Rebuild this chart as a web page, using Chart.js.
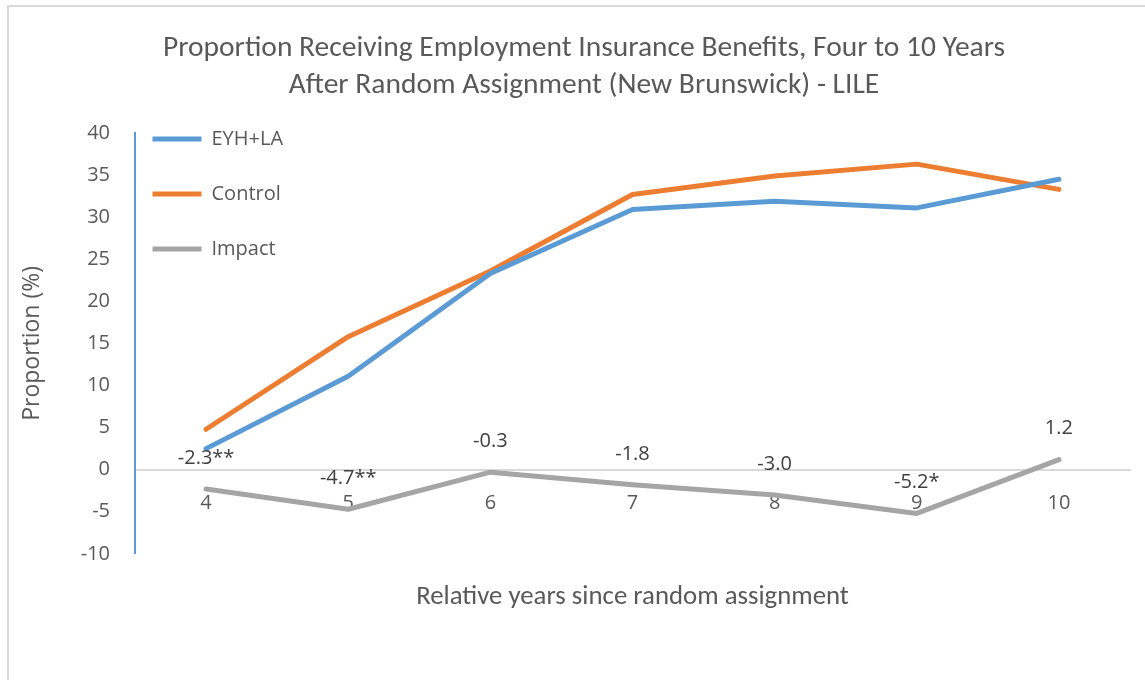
<!DOCTYPE html>
<html>
<head>
<meta charset="utf-8">
<script src="https://cdn.jsdelivr.net/npm/chart.js@4/dist/chart.umd.min.js"></script>
<style>
  html, body { margin: 0; padding: 0; background: #fff; overflow: hidden; }
  #frame { position: absolute; left: 7px; top: 5px; width: 2000px; height: 2000px; border: 2px solid #d9d9d9; }
  #wrap { position: absolute; left: 0; top: 0; width: 1145px; height: 680px; }
</style>
</head>
<body>
<div id="frame"></div>
<div id="wrap"><canvas id="chart" width="1145" height="680"></canvas></div>
<script>
// chart data
const years = ['4', '5', '6', '7', '8', '9', '10'];
const eyhValues = [2.5, 11.1, 23.3, 30.9, 31.9, 31.1, 34.5];
const controlValues = [4.8, 15.8, 23.6, 32.7, 34.9, 36.3, 33.3];
const impactValues = [-2.3, -4.7, -0.3, -1.8, -3.0, -5.2, 1.2];
const impactLabels = ['-2.3**', '-4.7**', '-0.3', '-1.8', '-3.0', '-5.2*', '1.2'];
const yTicks = [-10, -5, 0, 5, 10, 15, 20, 25, 30, 35, 40];

const titleLines = ['Proportion Receiving Employment Insurance Benefits, Four to 10 Years',
                    'After Random Assignment (New Brunswick) - LILE'];
const xTitle = 'Relative years since random assignment';

const titleFont = "Carlito, 'Liberation Sans Narrow', 'Open Sans', sans-serif";
const tickFont = "'Open Sans', 'Noto Sans', sans-serif";
const textColor = '#595959';

// labels above the impact line
const impactLabelPlugin = {
  id: 'impactLabels',
  afterDatasetsDraw(chart) {
    const meta = chart.getDatasetMeta(2);
    const ctx = chart.ctx;
    ctx.save();
    ctx.font = "20px " + tickFont;
    ctx.fillStyle = '#404040';
    ctx.textAlign = 'center';
    ctx.textBaseline = 'middle';
    meta.data.forEach((pt, i) => {
      ctx.fillText(impactLabels[i], pt.x, pt.y - 31);
    });
    ctx.restore();
  }
};

// legend into the plot's top-left corner (a vertical legend resets top to 0),
// main title centred on the framed chart, x title centred on the plot
const layoutTweaks = {
  id: 'layoutTweaks',
  afterLayout(chart) {
    const area = chart.chartArea;
    const lg = chart.legend;
    if (lg) {
      const w = lg.width, h = lg.height;
      lg.left = area.left - 17.5;
      lg.right = lg.left + w;
      lg.top = area.top - 39;
      lg.bottom = lg.top + h;
    }
    chart.boxes.forEach(box => {
      if (!box.options || box.options.text === undefined) return;
      if (box.options.text === xTitle) {
        box.left = area.left;
        box.right = area.right;
      } else if (box.options.text === titleLines) {
        box.left = 23;
        box.right = chart.width;
      }
    });
  }
};

const ctx = document.getElementById('chart').getContext('2d');
new Chart(ctx, {
  type: 'line',
  data: {
    labels: years,
    datasets: [
      { label: 'EYH+LA', data: eyhValues, borderColor: '#5b9bd5', backgroundColor: '#5b9bd5' },
      { label: 'Control', data: controlValues, borderColor: '#ed7d31', backgroundColor: '#ed7d31' },
      { label: 'Impact', data: impactValues, borderColor: '#a5a5a5', backgroundColor: '#a5a5a5' }
    ].map(ds => Object.assign(ds, {
      borderWidth: 5,
      borderCapStyle: 'round',
      borderJoinStyle: 'round',
      pointRadius: 0,
      pointHoverRadius: 0,
      tension: 0,
      fill: false
    }))
  },
  options: {
    responsive: false,
    animation: false,
    devicePixelRatio: 1,
    layout: { padding: { left: 0, right: 15, top: 0, bottom: 0 } },
    plugins: {
      title: {
        display: true,
        text: titleLines,
        color: textColor,
        font: { family: titleFont, size: 29.5, weight: 'normal', lineHeight: 1.254 },
        padding: { top: 30.5, bottom: 28.5 }
      },
      subtitle: {
        display: true,
        position: 'bottom',
        text: xTitle,
        color: textColor,
        font: { family: titleFont, size: 26.8, weight: 'normal', lineHeight: 1.2 },
        padding: { top: 27, bottom: 67 }
      },
      legend: {
        position: 'chartArea',
        align: 'start',
        labels: {
          usePointStyle: true,
          pointStyle: 'line',
          pointStyleWidth: 49,
          padding: 35,
          color: textColor,
          font: { family: tickFont, size: 20 }
        }
      },
      tooltip: { enabled: false }
    },
    scales: {
      x: {
        type: 'category',
        offset: true,
        position: { y: 0 },
        grid: { display: false, drawTicks: false },
        border: { display: true, color: '#d9d9d9', width: 2 },
        ticks: { color: textColor, padding: 22, font: { family: tickFont, size: 20 } }
      },
      y: {
        min: -10,
        max: 40,
        afterBuildTicks(scale) { scale.ticks = yTicks.map(v => ({ value: v })); },
        afterFit(scale) { scale.width = 135; },
        grid: { display: false, drawTicks: false },
        border: { display: true, color: '#5b9bd5', width: 2 },
        ticks: { color: textColor, padding: 25, font: { family: tickFont, size: 20 } },
        title: {
          display: true,
          text: 'Proportion (%)',
          color: textColor,
          font: { family: tickFont, size: 23 },
          padding: { top: 19, bottom: 0 }
        }
      }
    }
  },
  plugins: [impactLabelPlugin, layoutTweaks]
});
</script>
</body>
</html>
